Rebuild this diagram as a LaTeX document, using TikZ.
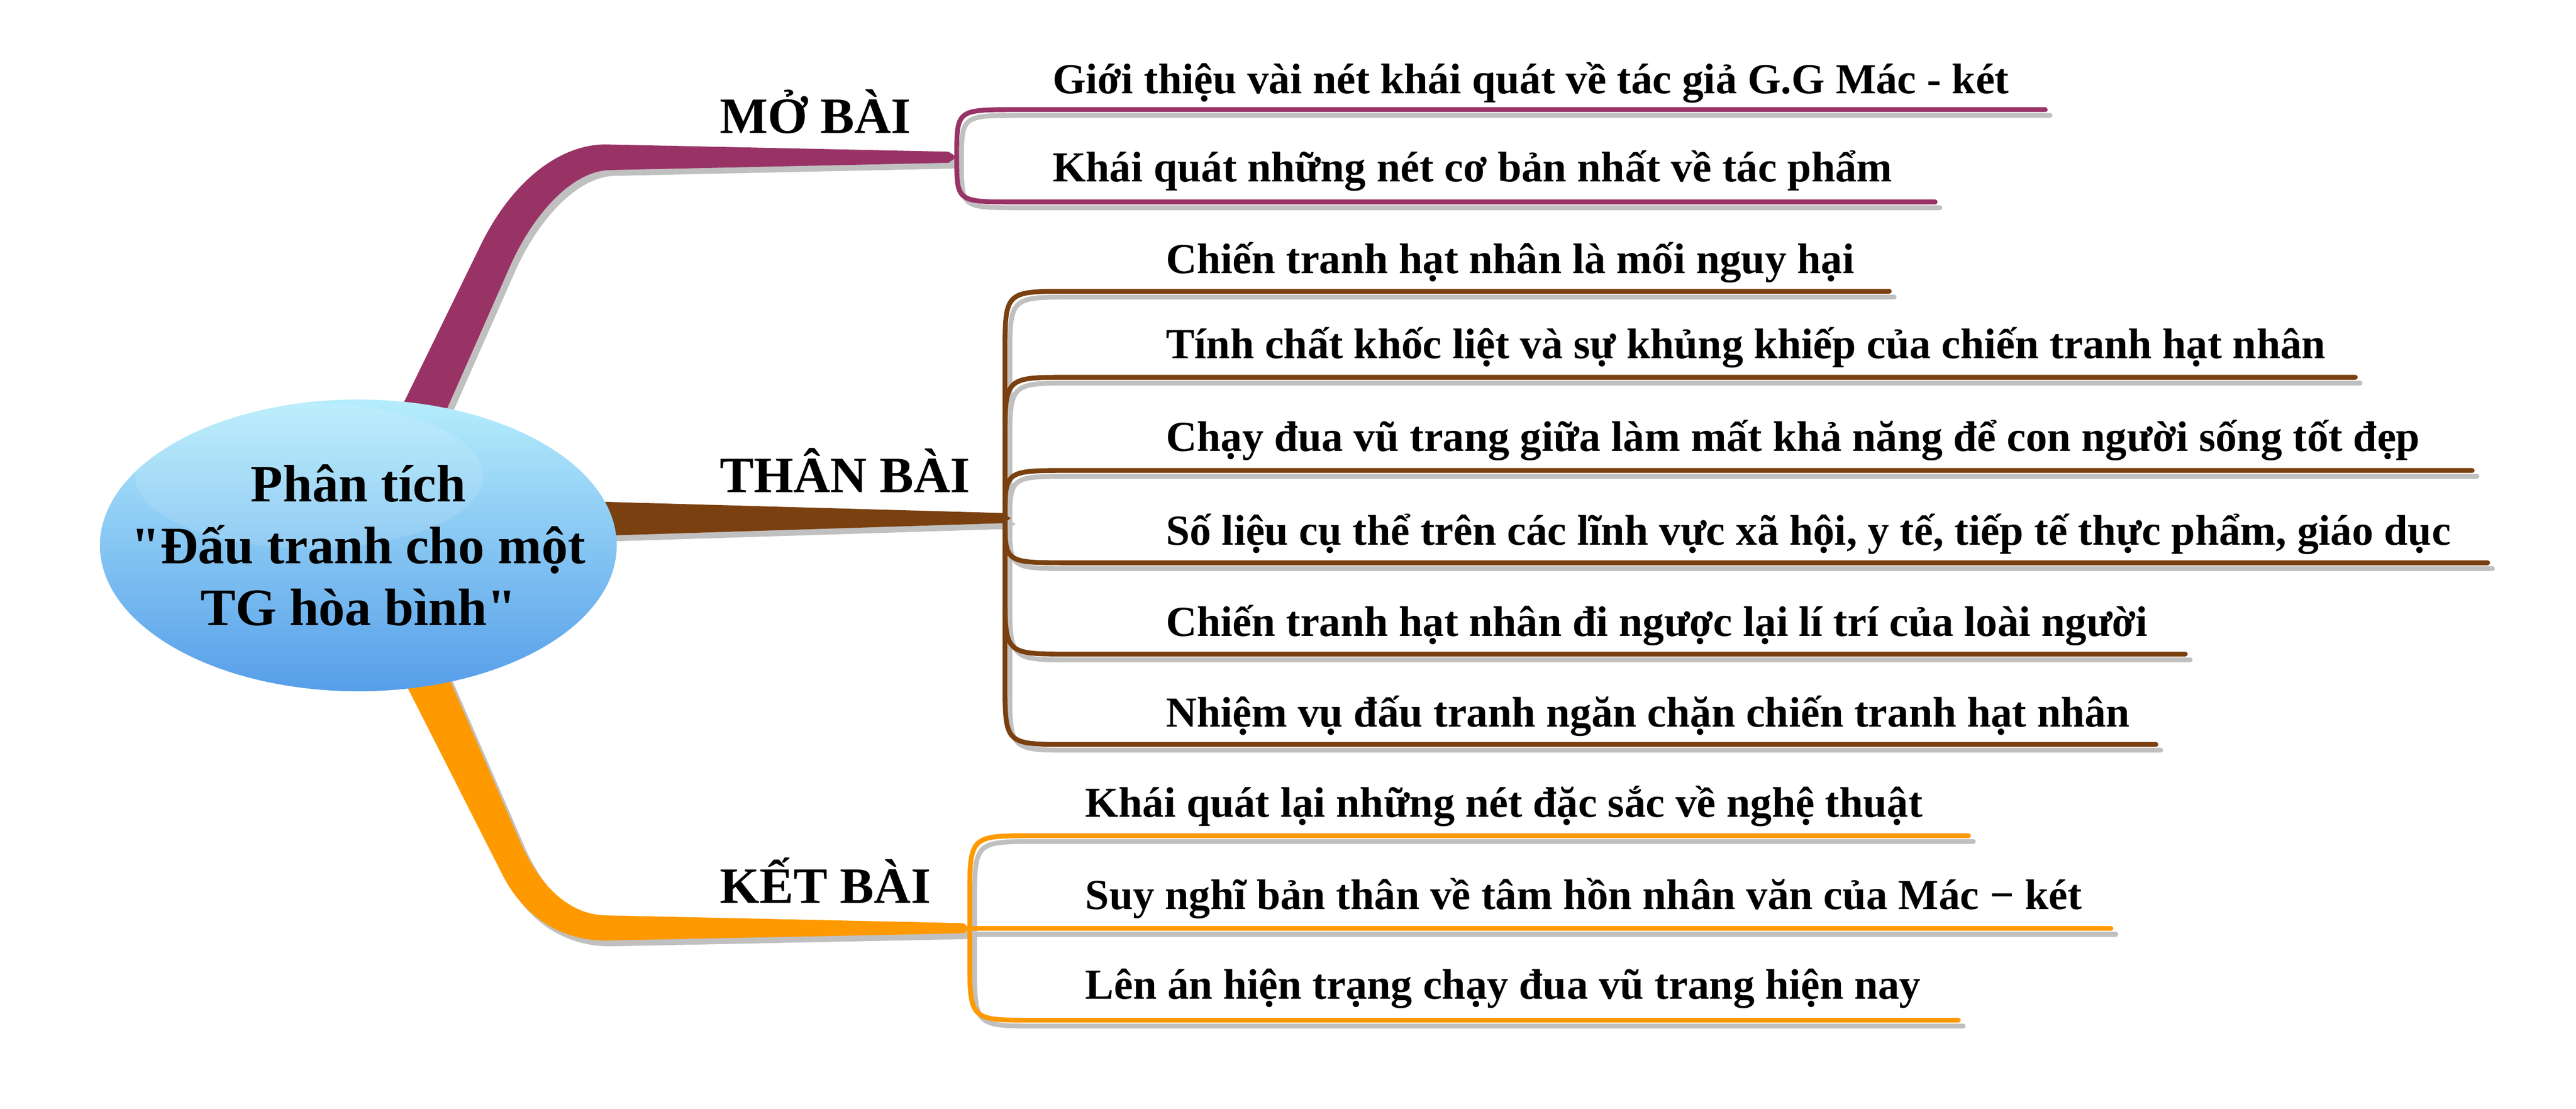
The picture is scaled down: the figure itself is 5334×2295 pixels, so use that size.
\documentclass[tikz,border=0pt]{standalone}
\usepackage{fontspec}
\setmainfont{Liberation Serif}[Ligatures=TeXOff]
\usetikzlibrary{calc}
\usetikzlibrary{shapes.geometric}

\definecolor{mopurple}{HTML}{993366}
\definecolor{thanbrown}{HTML}{7A400F}
\definecolor{ketorange}{HTML}{FF9900}
\definecolor{shadowgray}{HTML}{C0C0C0}
\definecolor{balltop}{HTML}{B5EDFC}
\definecolor{ballmid}{HTML}{92DEF8}
\definecolor{ballbot}{HTML}{569EE9}

\begin{document}
\begin{tikzpicture}[
  x=0.1mm, y=-0.1mm,
  ball/.style={ellipse, minimum width=107mm, minimum height=60.4mm, inner sep=0pt,
    top color=balltop, middle color=ballmid, bottom color=ballbot},
  topictext/.style={align=center, inner sep=0pt, font=\bfseries\fontsize{31}{36.4}\selectfont},
  part/.style={anchor=base west, inner sep=0pt, font=\bfseries\fontsize{30}{36}\selectfont},
  item/.style={anchor=base west, inner sep=0pt, font=\bfseries\fontsize{25.2}{30}\selectfont},
  twig/.style={line width=1mm, line cap=round, line join=round},
  greyshadow/.style={shadowgray, transform canvas={xshift=1mm, yshift=-1.2mm}},
  mocol/.style={mopurple},
  tbcol/.style={thanbrown},
  kbcol/.style={ketorange}
]
\useasboundingbox (0,0) rectangle (5334,2295);

% junctions and ends of the underlines
\coordinate (jm) at (1981,325);
\coordinate (jt) at (2081,1073);
\coordinate (jk) at (2008,1922);
\foreach \i/\y/\xe in {1/227/4235, 2/418/4007}
  \coordinate (mbe\i) at (\xe,\y);
\foreach \i/\y/\xe in {1/603/3912, 2/781/4877, 3/974/5119, 4/1165/5151, 5/1354/4525, 6/1541/4464}
  \coordinate (tbe\i) at (\xe,\y);
\foreach \i/\y/\xe in {1/1730/4076, 2/1922/4371, 3/2112/4055}
  \coordinate (kbe\i) at (\xe,\y);

% MO BAI
\foreach \st in {greyshadow, mocol} {
  \fill[\st] (765,979) -- (995,508) .. controls (1061,373) and (1160,299) .. (1254,299)
    -- (1964,314) -- (jm) -- (1964,337) -- (1263,352)
    .. controls (1180,354) and (1100,452) .. (1057,549) -- (862,990) -- cycle;
  \foreach \i in {1,2}
    \draw[twig, \st] (jm) .. controls (jm |- mbe\i) .. ($(jm |- mbe\i)+(120,0)$) -- (mbe\i);
}

% THAN BAI
\foreach \st in {greyshadow, tbcol} {
  \fill[\st] (1150,1036) -- (2077,1062) -- (2093,1073) -- (2077,1083) -- (1150,1112) -- cycle;
  \foreach \i/\ya in {1/733, 2/911, 3/1073, 4/1073, 5/1224, 6/1411}
    \draw[twig, \st] (jt) -- (2081,\ya) .. controls (jt |- tbe\i) .. ($(jt |- tbe\i)+(130,0)$) -- (tbe\i);
}

% KET BAI
\foreach \st in {greyshadow, kbcol} {
  \fill[\st] (771,1280) -- (1040,1810) .. controls (1080,1890) and (1154,1947) .. (1254,1947)
    -- (1995,1932) -- (jk) -- (1995,1911) -- (1258,1895)
    .. controls (1170,1895) and (1110,1820) .. (1075,1738) -- (876,1280) -- cycle;
  \foreach \i/\ya in {1/1860, 2/1922, 3/1982}
    \draw[twig, \st] (jk) -- (2008,\ya) .. controls (jk |- kbe\i) .. ($(jk |- kbe\i)+(130,0)$) -- (kbe\i);
}

% central topic
\node[ball] (topic) at (742,1129) {};
\fill[white, opacity=.12] (640,985) ellipse (360 and 150);
\node[topictext] (title) at (topic.center) {Phân tích\\"Đấu tranh cho một\\TG hòa bình"};

\node[part] (mobai) at (1490,276) {MỞ BÀI};
\node[part] (thanbai) at (1490,1019) {THÂN BÀI};
\node[part] (ketbai) at (1490,1870) {KẾT BÀI};

\node[item] (mb1) at (2179,194) {Giới thiệu vài nét khái quát về tác giả G.G Mác - két};
\node[item] (mb2) at (2179,376) {Khái quát những nét cơ bản nhất về tác phẩm};

\node[item] (tb1) at (2414,566) {Chiến tranh hạt nhân là mối nguy hại};
\node[item] (tb2) at (2414,742) {Tính chất khốc liệt và sự khủng khiếp của chiến tranh hạt nhân};
\node[item] (tb3) at (2414,934) {Chạy đua vũ trang giữa làm mất khả năng để con người sống tốt đẹp};
\node[item] (tb4) at (2414,1128) {Số liệu cụ thể trên các lĩnh vực xã hội, y tế, tiếp tế thực phẩm, giáo dục};
\node[item] (tb5) at (2414,1317) {Chiến tranh hạt nhân đi ngược lại lí trí của loài người};
\node[item] (tb6) at (2414,1505) {Nhiệm vụ đấu tranh ngăn chặn chiến tranh hạt nhân};

\node[item] (kb1) at (2247,1691) {Khái quát lại những nét đặc sắc về nghệ thuật};
\node[item] (kb2) at (2247,1882) {Suy nghĩ bản thân về tâm hồn nhân văn của Mác − két};
\node[item] (kb3) at (2247,2068) {Lên án hiện trạng chạy đua vũ trang hiện nay};
\end{tikzpicture}
\end{document}
